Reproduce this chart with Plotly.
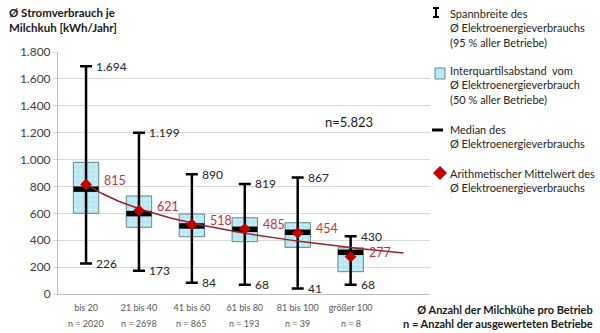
import numpy as np
import plotly.graph_objects as go

categories = ["bis 20", "21 bis 40", "41 bis 60", "61 bis 80", "81 bis 100", "größer 100"]
n_labels = ["n = 2020", "n = 2698", "n = 865", "n = 193", "n = 39", "n = 8"]
whisker_high = [1694, 1199, 890, 819, 867, 430]
whisker_low = [226, 173, 84, 68, 41, 68]
q3 = [979, 729, 595, 567, 530, 344]
q1 = [600, 496, 426, 389, 347, 166]
median = [780, 598, 506, 481, 459, 310]
mean = [815, 621, 518, 485, 454, 277]
y_ticks = [0, 200, 400, 600, 800, 1000, 1200, 1400, 1600, 1800]
n_total = "n=5.823"

FONT = "Lato"
L, R, T, B = 58, 170, 52, 39
W, H = 600, 333
PW, PH = W - L - R, H - T - B


def px(x):
    return (x - L) / PW


def py(y):
    return (H - B - y) / PH


def de(v):
    return f"{v:,}".replace(",", ".")


xs = np.arange(len(categories))
fig = go.Figure()

# whiskers (error bars drawn from median)
fig.add_trace(go.Scatter(
    x=xs, y=median, mode="markers", marker=dict(size=1, color="rgba(0,0,0,0)"),
    error_y=dict(type="data", symmetric=False,
                 array=[h - m for h, m in zip(whisker_high, median)],
                 arrayminus=[m - l for m, l in zip(median, whisker_low)],
                 thickness=2.5, width=6, color="black"),
    hoverinfo="skip", showlegend=False))

# interquartile boxes
fig.add_trace(go.Bar(
    x=xs, y=[a - b for a, b in zip(q3, q1)], base=q1, width=0.48,
    marker=dict(color="#b8e7f2", line=dict(color="#5f8a95", width=1),
                pattern=dict(shape=".", fgcolor="#e0f5fa", size=5, solidity=0.3)),
    showlegend=False, hoverinfo="skip"))

# median bands
fig.add_trace(go.Scatter(
    x=xs, y=median, mode="markers",
    marker=dict(symbol="line-ew", size=18, line=dict(width=5.5, color="black")),
    showlegend=False, hoverinfo="skip"))

# logarithmic trend line of the means
coef = np.polyfit(np.log(xs + 1.0), np.array(mean, dtype=float), 1)
tx = np.linspace(0, len(categories), 120)
fig.add_trace(go.Scatter(
    x=tx, y=coef[0] * np.log(tx + 1.0) + coef[1], mode="lines",
    line=dict(color="#9e1f2c", width=1.5), showlegend=False, hoverinfo="skip"))

# means
fig.add_trace(go.Scatter(
    x=xs, y=mean, mode="markers",
    marker=dict(symbol="diamond", size=9, color="#c00000"),
    showlegend=False, hoverinfo="skip"))

ann = []
for i in range(len(categories)):
    ann.append(dict(x=i, y=whisker_high[i], text=de(whisker_high[i]), xanchor="left",
                    yanchor="middle", xshift=8, showarrow=False,
                    font=dict(size=12, color="#262626", family=FONT)))
    ann.append(dict(x=i, y=whisker_low[i], text=de(whisker_low[i]), xanchor="left",
                    yanchor="middle", xshift=8, showarrow=False,
                    font=dict(size=12, color="#262626", family=FONT)))
    ann.append(dict(x=i, y=mean[i], text=de(mean[i]), xanchor="left",
                    yanchor="middle", xshift=16, yshift=4, showarrow=False,
                    font=dict(size=12.5, color="#c8323c", family=FONT)))
    ann.append(dict(x=i, y=0, text=n_labels[i], xanchor="center", yanchor="middle",
                    yshift=-29, showarrow=False,
                    font=dict(size=9, color="#595959", family=FONT)))

ann.append(dict(xref="paper", yref="paper", x=px(7), y=py(20), xanchor="left", yanchor="middle",
                text="<b>Ø Stromverbrauch je<br>Milchkuh [kWh/Jahr]</b>", align="left",
                showarrow=False, font=dict(size=11.5, color="#1a1a1a", family=FONT)))
ann.append(dict(xref="paper", yref="paper", x=px(349), y=py(122), xanchor="center",
                yanchor="middle", text=n_total, showarrow=False,
                font=dict(size=13, color="#1a1a1a", family=FONT)))
legend_texts = [
    ("Spannbreite des<br>Ø Elektroenergieverbrauchs<br>(95 % aller Betriebe)", 28),
    ("Interquartilsabstand  vom<br>Ø Elektroenergieverbrauch<br>(50 % aller Betriebe)", 85),
    ("Median des<br>Ø Elektroenergieverbrauchs", 136.5),
    ("Arithmetischer Mittelwert des<br>Ø Elektroenergieverbrauchs", 180),
]
for t, yy in legend_texts:
    ann.append(dict(xref="paper", yref="paper", x=px(448), y=py(yy), xanchor="left",
                    yanchor="middle", text=t, align="left", showarrow=False,
                    font=dict(size=11, color="#262626", family=FONT)))
ann.append(dict(xref="paper", yref="paper", x=px(595), y=py(316), xanchor="right",
                yanchor="middle", align="right", showarrow=False,
                text="<b>Ø Anzahl der Milchkühe pro Betrieb<br>n = Anzahl der ausgewerteten Betriebe</b>",
                font=dict(size=11, color="#1a1a1a", family=FONT)))

shapes = [
    # I-beam icon
    dict(type="line", xref="paper", yref="paper", x0=px(436), x1=px(436), y0=py(8), y1=py(17),
         line=dict(color="black", width=2)),
    dict(type="line", xref="paper", yref="paper", x0=px(433), x1=px(439), y0=py(8), y1=py(8),
         line=dict(color="black", width=2)),
    dict(type="line", xref="paper", yref="paper", x0=px(433), x1=px(439), y0=py(17), y1=py(17),
         line=dict(color="black", width=2)),
    # box icon
    dict(type="rect", xref="paper", yref="paper", x0=px(435), x1=px(445), y0=py(68), y1=py(79),
         fillcolor="#b8e7f2", line=dict(color="#5f8a95", width=1)),
    # median icon
    dict(type="line", xref="paper", yref="paper", x0=px(432), x1=px(443), y0=py(130), y1=py(130),
         line=dict(color="black", width=3)),
    # diamond icon
    dict(type="path", xref="paper", yref="paper",
         path=f"M {px(440)},{py(166)} L {px(447)},{py(173)} L {px(440)},{py(180)} L {px(433)},{py(173)} Z",
         fillcolor="#c00000", line=dict(width=0)),
]

fig.update_layout(
    width=W, height=H, margin=dict(l=L, r=R, t=T, b=B),
    paper_bgcolor="white", plot_bgcolor="white",
    separators=",.", barmode="overlay", showlegend=False,
    font=dict(family=FONT, color="#404040"),
    annotations=ann, shapes=shapes,
    xaxis=dict(range=[-0.53, 6.5], tickvals=list(xs), ticktext=categories,
               tickfont=dict(size=9, color="#595959", family=FONT),
               showgrid=False, zeroline=False, showline=True, linecolor="#bfbfbf",
               ticks="outside", ticklen=5, tickcolor="rgba(0,0,0,0)"),
    yaxis=dict(range=[0, 1800], tickvals=y_ticks, tickformat=",d",
               tickfont=dict(size=12, color="#404040", family=FONT),
               showgrid=True, gridcolor="#d9d9d9", zeroline=False,
               showline=True, linecolor="#bfbfbf", ticks="outside", ticklen=4,
               tickcolor="#d9d9d9"),
)

fig.write_html("out.html")
